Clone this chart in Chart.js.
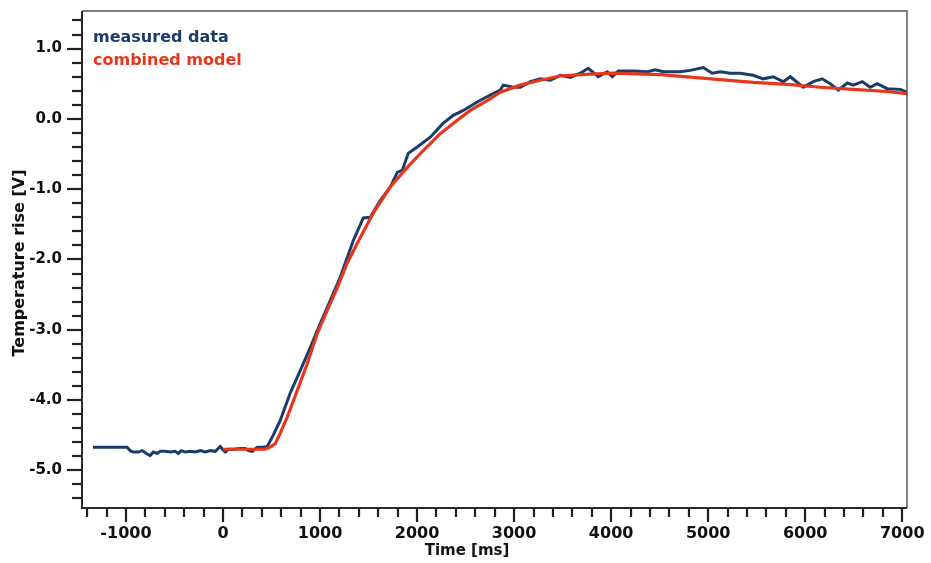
<!DOCTYPE html>
<html><head><meta charset="utf-8">
<script src="https://cdn.jsdelivr.net/npm/chart.js@4"></script>
<style>html,body{margin:0;padding:0;background:#fff}#wrap{width:931px;height:563px}</style>
</head><body><div id="wrap"><canvas id="c" width="931" height="563"></canvas></div>
<script>
// ---- data (time in ms, temperature rise in V) ----
const measuredTime = [-1340,-989,-956,-925,-873,-832,-791,-750,-719,-678,-646,-595,-543,-492,-461,-430,-388,-337,-285,-234,-182,-131,-79,-28,-7,24,55,107,178,230,261,302,353,405,457,518,590,693,796,900,1003,1106,1209,1240,1343,1446,1518,1621,1724,1796,1848,1909,2002,2136,2270,2373,2476,2620,2754,2857,2888,2991,3064,3167,3270,3373,3476,3579,3682,3764,3867,3960,4012,4074,4228,4373,4455,4537,4712,4815,4949,5042,5124,5227,5330,5464,5567,5670,5774,5846,5980,6083,6176,6258,6341,6434,6495,6588,6670,6742,6846,6980,7052];
const measuredValue = [-4.67,-4.67,-4.72,-4.74,-4.74,-4.72,-4.76,-4.79,-4.74,-4.76,-4.73,-4.73,-4.74,-4.73,-4.76,-4.72,-4.74,-4.73,-4.74,-4.72,-4.74,-4.72,-4.73,-4.66,-4.70,-4.74,-4.70,-4.70,-4.69,-4.69,-4.72,-4.73,-4.67,-4.67,-4.66,-4.50,-4.29,-3.90,-3.58,-3.25,-2.91,-2.58,-2.25,-2.13,-1.73,-1.41,-1.40,-1.16,-0.97,-0.76,-0.73,-0.49,-0.40,-0.26,-0.06,0.05,0.12,0.24,0.34,0.41,0.48,0.45,0.45,0.53,0.57,0.55,0.62,0.59,0.65,0.72,0.60,0.67,0.60,0.68,0.68,0.67,0.70,0.67,0.67,0.69,0.73,0.65,0.67,0.65,0.65,0.62,0.57,0.60,0.53,0.60,0.45,0.53,0.57,0.50,0.41,0.51,0.48,0.53,0.45,0.50,0.43,0.42,0.38];
const modelTime = [0,436,487,539,590,663,766,869,972,1075,1178,1281,1384,1549,1724,1899,2064,2239,2414,2548,2723,2857,3063,3269,3475,3681,4022,4506,4846,5124,5465,5815,6155,6495,6846,7052];
const modelValue = [-4.70,-4.70,-4.67,-4.62,-4.47,-4.24,-3.86,-3.48,-3.05,-2.72,-2.40,-2.05,-1.77,-1.34,-0.97,-0.69,-0.45,-0.21,-0.02,0.12,0.26,0.38,0.48,0.55,0.61,0.63,0.65,0.63,0.59,0.56,0.52,0.49,0.45,0.42,0.39,0.36];
const xTickValues = [-1000,0,1000,2000,3000,4000,5000,6000,7000];
const yTickValues = [-5,-4,-3,-2,-1,0,1];
const seriesNames = ['measured data', 'combined model'];
const xTitle = 'Time [ms]';
const yTitle = 'Temperature rise [V]';

const NAVY = '#1a3c68';
const RED = '#e8361c';
const FONT = "'DejaVu Sans', sans-serif";

const toPts = (xs, ys) => xs.map((x, i) => ({x: x, y: ys[i]}));

const decor = {
  id: 'decor',
  afterDraw(chart) {
    const ctx = chart.ctx, a = chart.chartArea;
    const xs = chart.scales.x, ys = chart.scales.y;
    ctx.save();
    // frame
    ctx.strokeStyle = '#555';
    ctx.lineWidth = 1.5;
    ctx.beginPath();
    ctx.moveTo(a.left, a.top); ctx.lineTo(a.right, a.top); ctx.lineTo(a.right, a.bottom);
    ctx.stroke();
    ctx.strokeStyle = '#2a2a2a';
    ctx.lineWidth = 2;
    ctx.beginPath();
    ctx.moveTo(a.left, a.top); ctx.lineTo(a.left, a.bottom); ctx.lineTo(a.right, a.bottom);
    ctx.stroke();
    // y ticks (minor every 0.2, major every 1.0)
    ctx.strokeStyle = '#222';
    ctx.lineWidth = 2.2;
    for (let k = -27; k <= 7; k++) {
      const v = k * 0.2;
      if (v < ys.min || v > ys.max) continue;
      const py = Math.round(ys.getPixelForValue(v));
      const major = (k % 5 === 0);
      ctx.beginPath();
      ctx.moveTo(a.left - (major ? 15 : 10), py);
      ctx.lineTo(a.left, py);
      ctx.stroke();
    }
    // x ticks (minor every 200, major every 1000)
    for (let t = -1400; t <= 7000; t += 200) {
      const px = Math.round(xs.getPixelForValue(t));
      const major = (t % 1000 === 0);
      ctx.beginPath();
      ctx.moveTo(px, a.bottom);
      ctx.lineTo(px, a.bottom + (major ? 14 : 9));
      ctx.stroke();
    }
    // legend text
    ctx.font = "bold 16px " + FONT;
    ctx.textAlign = 'left';
    ctx.textBaseline = 'alphabetic';
    ctx.fillStyle = NAVY;
    ctx.fillText(seriesNames[0], 93, 42);
    ctx.fillStyle = RED;
    ctx.fillText(seriesNames[1], 93, 65);
    // axis titles
    ctx.fillStyle = '#111';
    ctx.font = "bold 15px " + FONT;
    ctx.textAlign = 'center';
    ctx.textBaseline = 'middle';
    ctx.fillText(xTitle, 467, 551);
    ctx.save();
    ctx.translate(20, 263);
    ctx.rotate(-Math.PI / 2);
    ctx.font = "bold 16px " + FONT;
    ctx.fillText(yTitle, 0, 0);
    ctx.restore();
    ctx.restore();
  }
};

new Chart(document.getElementById('c'), {
  type: 'line',
  data: {
    datasets: [
      {label: seriesNames[1], data: toPts(modelTime, modelValue), borderColor: RED, backgroundColor: RED, borderWidth: 3.2, pointRadius: 0, tension: 0, fill: false},
      {label: seriesNames[0], data: toPts(measuredTime, measuredValue), borderColor: NAVY, backgroundColor: NAVY, borderWidth: 3, pointRadius: 0, tension: 0, fill: false}
    ]
  },
  options: {
    responsive: false,
    animation: false,
    devicePixelRatio: 1,
    layout: {padding: {top: 11, right: 24, left: 0, bottom: 0}},
    plugins: {legend: {display: false}, tooltip: {enabled: false}},
    scales: {
      x: {
        type: 'linear', min: -1453, max: 7049,
        afterBuildTicks(s) { s.ticks = xTickValues.map(v => ({value: v})); },
        afterFit(s) { s.height = 55; s.paddingLeft = 0; s.paddingRight = 0; },
        grid: {display: false, drawTicks: false},
        border: {display: false},
        ticks: {padding: 16, color: '#111', font: {family: FONT, size: 16, weight: 'bold'}, callback: v => String(v), maxRotation: 0, autoSkip: false}
      },
      y: {
        type: 'linear', min: -5.536, max: 1.535,
        afterBuildTicks(s) { s.ticks = yTickValues.map(v => ({value: v})); },
        afterFit(s) { s.width = 82; s.paddingTop = 0; s.paddingBottom = 0; },
        grid: {display: false, drawTicks: false},
        border: {display: false},
        ticks: {padding: 20, color: '#111', font: {family: FONT, size: 15, weight: 'bold'}, callback: v => Number(v).toFixed(1), autoSkip: false}
      }
    }
  },
  plugins: [decor]
});
</script>
</body></html>
